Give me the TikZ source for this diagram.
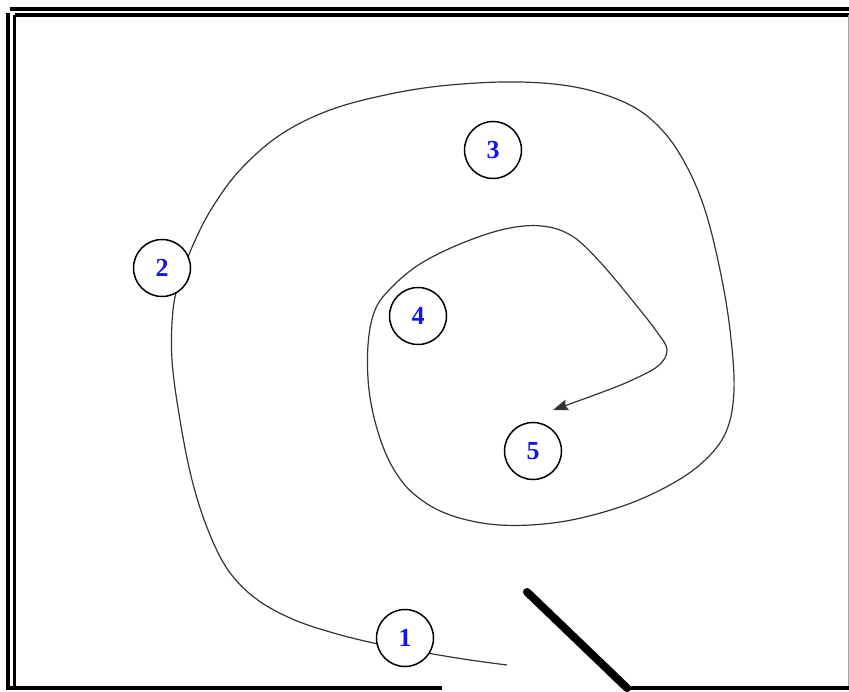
\documentclass[tikz,border=0pt]{standalone}
\usepackage{fontspec}
\setmainfont{Liberation Serif}
\usetikzlibrary{arrows.meta}
\definecolor{labelblue}{RGB}{20,20,235}
\begin{document}
\begin{tikzpicture}[x=1pt,y=-1pt,
  wall/.style={line width=3.4pt,black},
  spot/.style={circle,draw,line width=1.5pt,minimum size=57pt,inner sep=0pt,fill=white,
    font=\fontsize{26}{26}\selectfont\bfseries,text=labelblue},
  route/.style={line width=1.2pt,black!80}]
\useasboundingbox (0,0) rectangle (849,692);
% room outline: double walls on the left and top
\draw[wall] (10,9) -- (849,9);
\draw[wall] (15,15) -- (849,15);
\draw[wall] (8,13) -- (8,690);
\draw[wall] (14.5,15) -- (14.5,690);
\draw[line width=1pt,black!35] (848,15) -- (848,690);
% bottom wall with the doorway
\draw[wall] (8,688) -- (442,688);
\draw[wall] (628,688) -- (849,688);
% open door leaf
\draw[line width=8pt,line cap=round] (527,592) -- (627,688);
% walking route
\coordinate (start) at (507,665);
\coordinate (finish) at (553,410);
\draw[route,-{Stealth[length=15pt,width=11pt,inset=2pt]}] plot[smooth,tension=0.6] coordinates {
  (507,665) (470,660) (433,654) (378,644) (330,632) (290,618) (255,598) (228,570)
  (208,530) (192,480) (180,420) (172,360) (173,310) (180,280) (193,245) (212,208)
  (240,170) (280,135) (330,110) (390,94) (450,85) (520,82) (580,88) (630,105)
  (662,130) (686,165) (705,210) (720,270) (730,330) (734,390) (726,432) (703,462)
  (668,486) (620,507) (560,522) (500,525) (450,515) (415,495) (393,468) (378,432)
  (369,390) (368,345) (375,310) (392,287) (420,264) (460,244) (505,229) (542,226)
  (572,236) (600,262) (632,300) (657,332) (667,350) (658,366) (630,381) (600,393) (553,410)};
% numbered stops
\node[spot] (s1) at (405,638) {1};
\node[spot] (s2) at (162,268) {2};
\node[spot] (s3) at (493,150) {3};
\node[spot] (s4) at (418,316) {4};
\node[spot] (s5) at (533,451) {5};
\end{tikzpicture}
\end{document}
